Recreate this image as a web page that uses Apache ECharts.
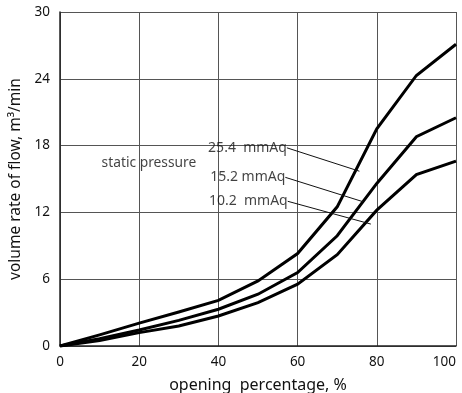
<!DOCTYPE html>
<html>
<head>
<meta charset="utf-8">
<script src="https://cdn.jsdelivr.net/npm/echarts@6/dist/echarts.min.js"></script>
<style>
  html, body { margin: 0; padding: 0; background: #fff; }
  #chart { width: 462px; height: 393px; }
</style>
</head>
<body>
<div id="chart"></div>
<script>
// Opening percentage (%) and flow rate (m3/min) for each static pressure
const opening = [0, 10, 20, 30, 40, 50, 60, 70, 80, 90, 100];
const flow254 = [0, 1.0, 2.05, 3.05, 4.1, 5.85, 8.3, 12.5, 19.5, 24.3, 27.1];
const flow152 = [0, 0.65, 1.43, 2.3, 3.3, 4.65, 6.6, 9.9, 14.6, 18.8, 20.5];
const flow102 = [0, 0.5, 1.2, 1.8, 2.7, 3.9, 5.55, 8.2, 12.2, 15.4, 16.6];

// Curve labels: text, label anchor [x, y], leader end [x, y]
const curveNames = ['25.4  mmAq', '15.2 mmAq', '10.2  mmAq'];
const labelAnchors = [[57.3, 17.8], [56.9, 15.15], [57.5, 13.0]];
const leaderEnds = [[75.6, 15.7], [76.6, 12.95], [78.5, 10.95]];
const noteText = 'static pressure';
const notePos = [10.5, 16.4];

const xTicks = [0, 20, 40, 60, 80, 100];
const yTicks = [0, 6, 12, 18, 24, 30];

const FONT = 'Noto Sans';

function pairs(xs, ys) { return xs.map((x, i) => [x, ys[i]]); }

const curveStyle = { color: '#000', width: 3, join: 'miter' };
const seriesList = [flow254, flow152, flow102].map((ys, k) => ({
  type: 'line',
  name: curveNames[k],
  data: pairs(opening, ys),
  symbol: 'none',
  lineStyle: curveStyle,
  z: 3,
  markLine: {
    silent: true,
    symbol: ['none', 'none'],
    label: { show: false },
    lineStyle: { color: '#111', width: 1, type: 'solid' },
    data: [[{ coord: labelAnchors[k] }, { coord: leaderEnds[k] }]]
  }
}));

// Text labels placed at data coordinates
seriesList.push({
  type: 'scatter',
  symbolSize: 0,
  silent: true,
  data: curveNames.map((n, i) => ({ value: labelAnchors[i], name: n })),
  label: {
    show: true, position: 'left', distance: 0,
    formatter: p => p.name,
    fontFamily: FONT, fontSize: 14, color: '#111'
  },
  z: 4
});
seriesList.push({
  type: 'scatter',
  symbolSize: 0,
  silent: true,
  data: [{ value: notePos, name: noteText }],
  label: {
    show: true, position: 'right', distance: 0,
    formatter: p => p.name,
    fontFamily: FONT, fontSize: 13.8, color: '#111'
  },
  z: 4
});

const chart = echarts.init(document.getElementById('chart'), null, { renderer: 'canvas' });
chart.setOption({
  animation: false,
  backgroundColor: '#fff',
  grid: { left: 60, right: 6, top: 12, bottom: 47, containLabel: false, outerBoundsMode: 'none' },
  xAxis: {
    type: 'value', min: 0, max: 100, interval: 20,
    name: 'opening  percentage, %', nameLocation: 'middle', nameGap: 31,
    nameTextStyle: { fontFamily: FONT, fontSize: 16, color: '#111' },
    axisLine: { show: true, lineStyle: { color: '#222', width: 1.5 } },
    axisTick: { show: false },
    axisLabel: {
      fontFamily: FONT, fontSize: 13.5, color: '#111', margin: 9,
      alignMaxLabel: 'right',
      formatter: v => (xTicks.includes(v) ? String(v) : '')
    },
    splitLine: { show: true, lineStyle: { color: '#555', width: 1 } }
  },
  yAxis: {
    type: 'value', min: 0, max: 30, interval: 6,
    name: 'volume rate of flow, m³/min', nameLocation: 'middle', nameGap: 36,
    nameTextStyle: { fontFamily: FONT, fontSize: 15.5, color: '#111' },
    axisLine: { show: true, lineStyle: { color: '#222', width: 1.5 } },
    axisTick: { show: false },
    axisLabel: {
      fontFamily: FONT, fontSize: 13.5, color: '#111', margin: 10,
      formatter: v => (yTicks.includes(v) ? String(v) : '')
    },
    splitLine: { show: true, lineStyle: { color: '#555', width: 1 } }
  },
  series: seriesList
});
</script>
</body>
</html>
